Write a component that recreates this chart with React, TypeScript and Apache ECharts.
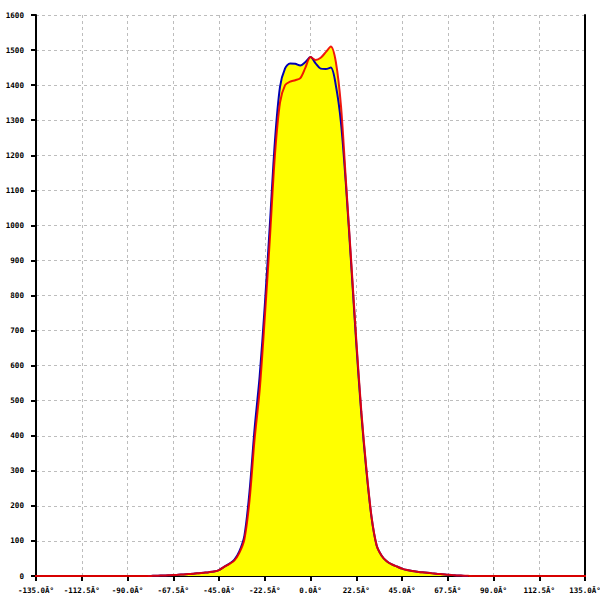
import React, { useEffect, useRef } from "react";
import * as echarts from "echarts";

const xTicks = [-135, -112.5, -90, -67.5, -45, -22.5, 0, 22.5, 45, 67.5, 90, 112.5, 135];
const xTickLabels = [
  "-135.0Â°", "-112.5Â°", "-90.0Â°", "-67.5Â°", "-45.0Â°", "-22.5Â°", "0.0Â°",
  "22.5Â°", "45.0Â°", "67.5Â°", "90.0Â°", "112.5Â°", "135.0Â°",
];

const angles = [
  -80, -77.5, -75, -72.5, -70, -67.5, -65, -62.5, -60, -57.5, -55, -52.5, -50, -47.5,
  -45, -42.5, -40, -37.5, -35, -32.5, -30, -27.5, -25, -22.5, -20, -17.5, -15, -12.5,
  -10, -7.5, -5, -2.5, 0, 2.5, 5, 7.5, 10, 12.5, 15, 17.5, 20, 22.5, 25, 27.5, 30,
  32.5, 35, 37.5, 40, 42.5, 45, 47.5, 50, 52.5, 55, 57.5, 60, 62.5, 65, 67.5, 70,
  72.5, 75, 77.5, 80,
];

const redValues = [
  0, 0.5, 1, 1.5, 2, 2.5, 3.5, 4.5, 5.5, 6.5, 8, 9.5, 11, 13,
  17, 26, 34, 44, 66, 105, 215, 390, 530, 735, 960, 1200, 1350, 1400,
  1410, 1414, 1420, 1450, 1480, 1472, 1478, 1494, 1510, 1465, 1340, 1120, 900, 675, 470, 305, 170,
  88, 58, 42, 33, 27, 21, 17, 14, 12, 10.5, 9, 7.5, 6, 5, 3.5, 2.5,
  1.5, 1, 0.5, 0,
];

const blueValues = [
  0, 0.5, 1, 1.5, 2, 2.5, 3.5, 4.5, 5.5, 6.5, 8, 9.5, 11, 13,
  17, 26, 35, 46, 70, 115, 240, 420, 570, 770, 1000, 1240, 1395, 1448,
  1462, 1461, 1456, 1466, 1480, 1462, 1447, 1446, 1450, 1398, 1292, 1110, 890, 665, 462, 300, 168,
  88, 58, 42, 33, 27, 21, 17, 14, 12, 10.5, 9, 7.5, 6, 5, 3.5, 2.5,
  1.5, 1, 0, 0,
];

// red baseline continues out past the axis range on both sides
const redOuterAngles = [-180, 180];
const redOuterValues = [0, 0];

const yMax = 1600;
const yInterval = 100;

export default function App() {
  const ref = useRef<HTMLDivElement>(null);

  useEffect(() => {
    if (!ref.current) return;
    const chart = echarts.init(ref.current, null, { renderer: "svg", width: 600, height: 600 });

    const redData: number[][] = [
      [redOuterAngles[0], redOuterValues[0]],
      ...angles.map((a, i) => [a, redValues[i]]),
      [redOuterAngles[1], redOuterValues[1]],
    ];
    const blueData: number[][] = angles
      .slice(0, angles.length - 1)
      .map((a, i) => [a, blueValues[i]]);

    const font = "DejaVu Sans Mono";
    const gridLine = { show: true, lineStyle: { color: "#bdbdbd", type: [3, 3] as any, width: 1 } };

    chart.setOption({
      animation: false,
      backgroundColor: "#ffffff",
      grid: {
        left: 36,
        top: 15,
        width: 549,
        height: 561,
        containLabel: false,
        outerBoundsMode: "none",
      } as any,
      xAxis: {
        type: "value",
        min: -135,
        max: 135,
        interval: 22.5,
        axisLine: { show: true, onZero: false, lineStyle: { color: "#000", width: 2 } },
        axisTick: { show: true, length: 5, lineStyle: { color: "#000", width: 2 } },
        axisLabel: {
          margin: 10,
          fontFamily: font,
          fontSize: 7.5,
          fontWeight: "bold",
          color: "#000",
          hideOverlap: false,
          formatter: (v: number) => {
            const idx = xTicks.findIndex((t) => Math.abs(t - v) < 1e-6);
            return idx >= 0 ? xTickLabels[idx] : "";
          },
        },
        splitLine: gridLine,
      },
      yAxis: [
        {
          type: "value",
          position: "left",
          min: 0,
          max: yMax,
          interval: yInterval,
          axisLine: { show: true, onZero: false, lineStyle: { color: "#000", width: 2 } },
          axisTick: { show: true, length: 5, lineStyle: { color: "#000", width: 2 } },
          axisLabel: {
            margin: 12,
            fontFamily: font,
            fontSize: 7.6,
            fontWeight: "bold",
            color: "#000",
            formatter: (v: number) => String(v),
          },
          splitLine: gridLine,
        },
        {
          type: "value",
          position: "right",
          min: 0,
          max: yMax,
          interval: yInterval,
          axisLine: { show: true, onZero: false, lineStyle: { color: "#000", width: 2 } },
          axisTick: { show: false },
          axisLabel: { show: false },
          splitLine: { show: false },
        },
      ],
      series: [
        {
          type: "line",
          data: blueData,
          smooth: 0.3,
          symbol: "none",
          lineStyle: { width: 0 },
          areaStyle: { color: "#ffff00", opacity: 1 },
          z: 1,
        },
        {
          type: "line",
          data: redData,
          smooth: 0.3,
          symbol: "none",
          lineStyle: { width: 0 },
          areaStyle: { color: "#ffff00", opacity: 1 },
          z: 1,
        },
        {
          type: "line",
          data: blueData,
          smooth: 0.3,
          symbol: "none",
          lineStyle: { width: 2, color: "#0000b4" },
          z: 3,
        },
        {
          type: "line",
          data: redData,
          smooth: 0.3,
          symbol: "none",
          clip: false,
          lineStyle: { width: 2, color: "#ee0000", opacity: 0.9 },
          z: 4,
        },
      ],
    });

    return () => chart.dispose();
  }, []);

  return (
    <div
      ref={ref}
      style={{ position: "fixed", left: 0, top: 0, width: 600, height: 600 }}
    />
  );
}
